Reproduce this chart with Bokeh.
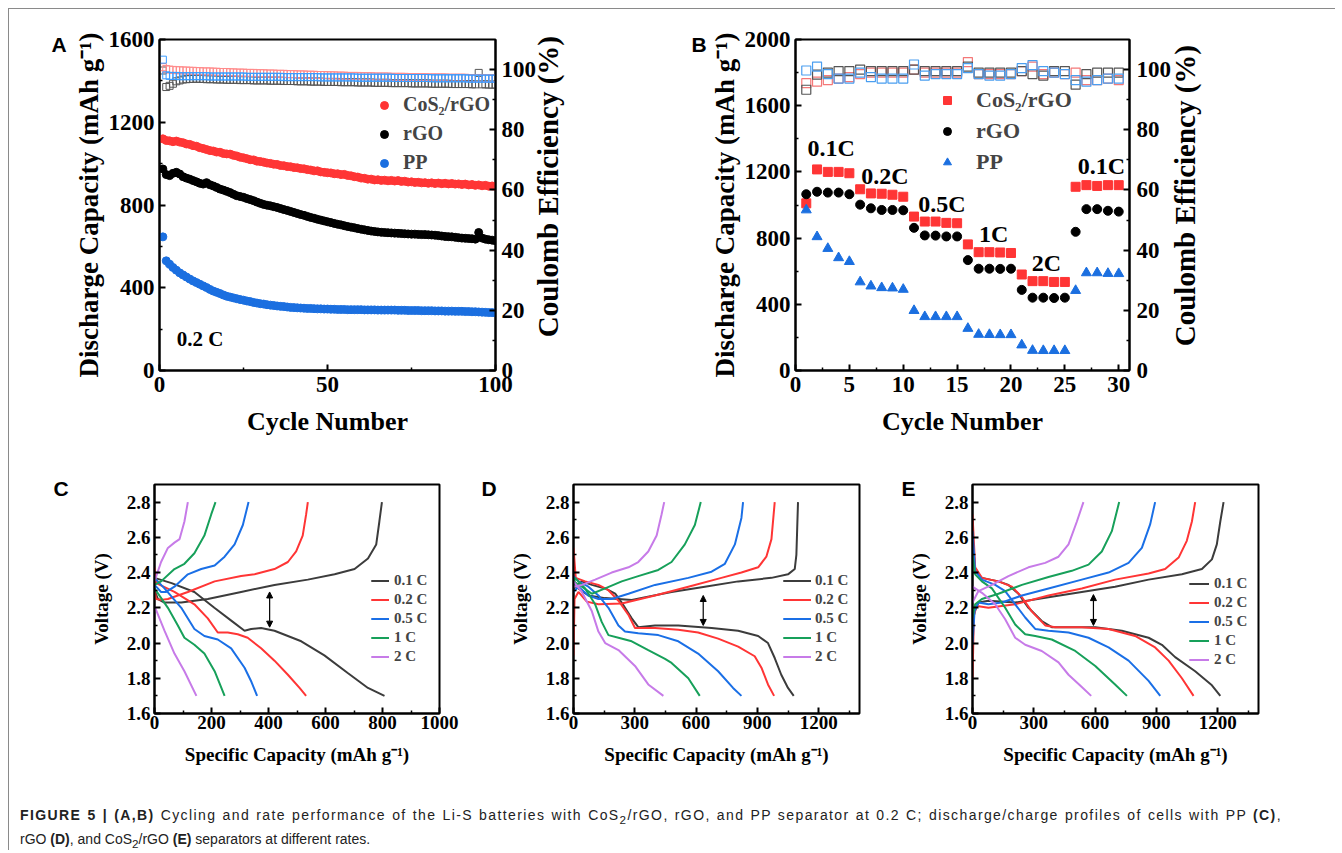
from bokeh.plotting import figure
from bokeh.models import (Range1d, LinearAxis, FixedTicker, Legend, LegendItem, Title,
                          Arrow, NormalHead, Div, PrintfTickFormatter)
from bokeh.layouts import row, column
from bokeh.core.properties import value
from bokeh.embed import file_html
from bokeh.resources import INLINE

SERIF = "Liberation Serif"
SANS = "Liberation Sans"

# ---------------- Panel A data (cycling at 0.2 C) ----------------
cycles_a = list(range(1, 101))
cap_cos2_a = [1120, 1112, 1110, 1106, 1109, 1104, 1101, 1095, 1093, 1087,
              1084, 1077, 1073, 1068, 1063, 1061, 1056, 1055, 1049, 1047,
              1046, 1040, 1037, 1031, 1028, 1024, 1019, 1018, 1012, 1010,
              1007, 1003, 1001, 997, 996, 991, 990, 986, 985, 981,
              980, 976, 975, 971, 969, 965, 965, 960, 958, 956,
              955, 951, 951, 947, 948, 943, 941, 937, 935, 930,
              929, 925, 925, 921, 922, 919, 920, 917, 919, 916,
              918, 914, 915, 911, 912, 909, 910, 907, 908, 905,
              907, 904, 906, 903, 905, 902, 904, 901, 902, 899,
              901, 897, 899, 895, 897, 893, 895, 891, 892, 890]
cap_rgo_a = [974, 947, 942, 953, 958, 950, 937, 930, 925, 918,
             912, 905, 901, 908, 898, 892, 885, 877, 872, 866,
             860, 852, 845, 841, 837, 831, 826, 821, 814, 808,
             803, 799, 796, 792, 788, 783, 778, 774, 769, 764,
             759, 754, 750, 745, 740, 736, 731, 727, 723, 719,
             715, 711, 707, 704, 700, 696, 693, 690, 686, 683,
             680, 677, 674, 672, 670, 668, 667, 666, 665, 664,
             663, 662, 661, 660, 659, 659, 658, 657, 657, 656,
             655, 654, 652, 650, 648, 647, 646, 644, 642, 640,
             639, 638, 637, 635, 667, 640, 635, 632, 630, 627]
cap_pp_a = [646, 530, 514, 498, 485, 472, 462, 452, 442, 433,
            425, 417, 409, 401, 392, 384, 378, 372, 365, 359,
            355, 351, 347, 343, 340, 336, 333, 329, 326, 323,
            321, 318, 316, 314, 312, 310, 309, 307, 305, 304,
            303, 302, 301, 300, 300, 299, 298, 298, 297, 297,
            296, 296, 295, 295, 295, 294, 294, 294, 294, 294,
            293, 293, 293, 293, 292, 292, 292, 292, 292, 292,
            291, 291, 291, 290, 290, 290, 290, 289, 289, 289,
            289, 288, 288, 288, 287, 287, 287, 286, 286, 286,
            285, 285, 284, 284, 283, 282, 281, 280, 280, 279]
ce_cos2_a = [100.8, 100.2, 100.0, 99.9, 99.8, 99.8, 99.7, 99.7, 99.6, 99.6,
             99.5, 99.5, 99.4, 99.4, 99.4, 99.3, 99.3, 99.2, 99.2, 99.2,
             99.1, 99.1, 99.0, 99.0, 99.0, 98.9, 98.9, 98.9, 98.8, 98.8,
             98.8, 98.7, 98.7, 98.7, 98.6, 98.6, 98.6, 98.5, 98.5, 98.5,
             98.4, 98.4, 98.4, 98.3, 98.3, 98.3, 98.2, 98.2, 98.2, 98.1,
             98.1, 98.1, 98.0, 98.0, 98.0, 97.9, 97.9, 97.9, 97.9, 97.8,
             97.8, 97.8, 97.8, 97.7, 97.7, 97.7, 97.7, 97.7, 97.6, 97.6,
             97.6, 97.6, 97.6, 97.5, 97.5, 97.5, 97.5, 97.5, 97.5, 97.4,
             97.4, 97.4, 97.4, 97.4, 97.4, 97.3, 97.3, 97.3, 97.3, 97.3,
             97.3, 97.2, 97.2, 97.2, 97.2, 97.2, 97.1, 97.1, 97.1, 97.1]
ce_rgo_a = [99.7, 94.2, 94.6, 95.3, 96.1, 96.4, 96.7, 96.8, 96.9, 96.9,
            97.0, 96.9, 96.9, 96.8, 96.8, 96.8, 96.7, 96.7, 96.7, 96.6,
            96.6, 96.6, 96.6, 96.5, 96.5, 96.5, 96.5, 96.4, 96.4, 96.4,
            96.4, 96.4, 96.3, 96.3, 96.3, 96.3, 96.2, 96.2, 96.2, 96.2,
            96.1, 96.1, 96.1, 96.1, 96.0, 96.0, 96.0, 96.0, 95.9, 95.9,
            95.9, 95.9, 95.9, 95.8, 95.8, 95.8, 95.8, 95.8, 95.7, 95.7,
            95.7, 95.7, 95.7, 95.6, 95.6, 95.6, 95.6, 95.6, 95.5, 95.5,
            95.5, 95.5, 95.5, 95.5, 95.4, 95.4, 95.4, 95.4, 95.4, 95.4,
            95.3, 95.3, 95.3, 95.3, 95.3, 95.3, 95.2, 95.2, 95.2, 95.2,
            95.2, 95.2, 95.1, 95.1, 98.9, 95.1, 95.1, 95.0, 95.0, 95.0]
ce_pp_a = [103.3, 98.1, 97.9, 97.9, 97.9, 97.8, 97.8, 97.8, 97.8, 97.8,
           97.8, 97.8, 97.8, 97.8, 97.7, 97.7, 97.7, 97.7, 97.7, 97.7,
           97.7, 97.7, 97.7, 97.7, 97.7, 97.6, 97.6, 97.6, 97.6, 97.6,
           97.6, 97.6, 97.6, 97.6, 97.6, 97.6, 97.5, 97.5, 97.5, 97.5,
           97.5, 97.5, 97.5, 97.5, 97.5, 97.5, 97.5, 97.4, 97.4, 97.4,
           97.4, 97.4, 97.4, 97.4, 97.4, 97.4, 97.4, 97.4, 97.3, 97.3,
           97.3, 97.3, 97.3, 97.3, 97.3, 97.3, 97.3, 97.3, 97.3, 97.2,
           97.2, 97.2, 97.2, 97.2, 97.2, 97.2, 97.2, 97.2, 97.2, 97.2,
           97.1, 97.1, 97.1, 97.1, 97.1, 97.1, 97.1, 97.1, 97.1, 97.1,
           97.1, 97.0, 97.0, 97.0, 97.0, 97.0, 97.0, 97.0, 97.0, 97.0]

# ---------------- Panel B data (rate performance) ----------------
cycles_b = list(range(1, 31))
cap_cos2_b = [1010, 1215, 1200, 1200, 1192, 1095, 1070, 1068, 1062, 1050,
              930, 900, 900, 892, 890, 762, 715, 715, 713, 710,
              580, 540, 540, 535, 535, 1110, 1120, 1115, 1120, 1120]
cap_rgo_b = [1065, 1080, 1075, 1075, 1065, 1002, 980, 970, 970, 968,
             862, 816, 815, 810, 810, 667, 615, 615, 614, 615,
             487, 440, 440, 438, 440, 838, 975, 975, 965, 960]
cap_pp_b = [970, 808, 737, 681, 658, 535, 510, 500, 498, 490,
            362, 325, 325, 325, 325, 254, 218, 217, 216, 216,
            154, 121, 120, 120, 120, 483, 590, 590, 586, 585]
ce_cos2_b = [95.5, 96.0, 96.5, 97.0, 97.5, 98.5, 99.0, 99.0, 99.0, 99.0,
             100.0, 99.0, 99.0, 99.0, 99.0, 102.5, 98.5, 98.5, 98.5, 98.5,
             99.5, 101.0, 98.5, 99.0, 98.5, 99.0, 96.5, 96.5, 97.0, 96.5]
ce_rgo_b = [93.3, 98.3, 99.0, 99.5, 99.5, 100.0, 99.5, 99.5, 99.5, 99.5,
            100.0, 99.5, 99.5, 99.5, 99.5, 101.0, 99.0, 99.0, 99.0, 99.0,
            99.5, 98.5, 98.0, 99.5, 99.5, 95.0, 98.5, 99.0, 99.0, 99.0]
ce_pp_b = [99.7, 101.0, 98.5, 97.0, 97.0, 99.0, 97.5, 97.0, 97.0, 97.0,
           101.7, 98.0, 98.5, 98.5, 98.5, 100.5, 98.5, 98.0, 98.0, 98.5,
           100.5, 101.5, 99.5, 99.0, 98.5, 96.5, 96.0, 96.5, 97.0, 97.0]
rate_text_b = ["0.1C", "0.2C", "0.5C", "1C", "2C", "0.1C"]
rate_x_b = [3.3, 8.3, 13.6, 18.4, 23.3, 28.4]
rate_y_b = [1345, 1176, 1006, 824, 648, 1236]

# ---------------- Panel C data (PP separator) ----------------
rates = ["0.1 C", "0.2 C", "0.5 C", "1 C", "2 C"]
pp_dis_cap_01 = [0, 60, 140, 210, 275, 316, 339, 374, 421, 515, 596, 678, 749, 807]
pp_dis_v_01 = [2.37, 2.34, 2.29, 2.20, 2.12, 2.07, 2.08, 2.085, 2.07, 2.01, 1.93, 1.83, 1.745, 1.70]
pp_chg_cap_01 = [0, 12, 35, 94, 187, 304, 421, 538, 632, 702, 749, 778, 789, 798]
pp_chg_v_01 = [2.30, 2.25, 2.23, 2.23, 2.25, 2.29, 2.33, 2.36, 2.39, 2.42, 2.48, 2.56, 2.69, 2.80]
pp_dis_cap_02 = [0, 6, 70, 140, 187, 222, 257, 292, 327, 374, 421, 468, 509, 532]
pp_dis_v_02 = [2.43, 2.34, 2.29, 2.22, 2.14, 2.06, 2.06, 2.05, 2.03, 1.97, 1.90, 1.82, 1.745, 1.70]
pp_chg_cap_02 = [0, 6, 23, 47, 117, 211, 304, 351, 421, 468, 497, 520, 532, 538]
pp_chg_v_02 = [2.30, 2.25, 2.245, 2.25, 2.29, 2.35, 2.38, 2.39, 2.42, 2.46, 2.52, 2.61, 2.73, 2.80]
pp_dis_cap_05 = [0, 35, 94, 140, 175, 222, 269, 316, 340, 360]
pp_dis_v_05 = [2.37, 2.31, 2.20, 2.08, 2.04, 2.02, 1.97, 1.86, 1.78, 1.70]
pp_chg_cap_05 = [0, 6, 23, 41, 70, 117, 164, 211, 246, 281, 310, 330]
pp_chg_v_05 = [2.33, 2.32, 2.29, 2.29, 2.32, 2.39, 2.42, 2.44, 2.49, 2.56, 2.67, 2.80]
pp_dis_cap_1 = [0, 47, 82, 105, 140, 175, 211, 246]
pp_dis_v_1 = [2.31, 2.20, 2.10, 2.03, 1.99, 1.94, 1.84, 1.70]
pp_chg_cap_1 = [0, 23, 70, 105, 140, 175, 199, 214]
pp_chg_v_1 = [2.33, 2.35, 2.42, 2.45, 2.51, 2.61, 2.73, 2.80]
pp_dis_cap_2 = [0, 35, 70, 105, 147]
pp_dis_v_2 = [2.21, 2.07, 1.94, 1.84, 1.70]
pp_chg_cap_2 = [0, 23, 47, 70, 88, 105, 117]
pp_chg_v_2 = [2.35, 2.46, 2.54, 2.57, 2.59, 2.69, 2.80]

# ---------------- Panel D data (rGO separator) ----------------
rgo_dis_cap_01 = [0, 8, 41, 90, 155, 204, 236, 285, 317, 399, 513, 676, 806, 904, 952, 985, 1017, 1050, 1078]
rgo_dis_v_01 = [2.30, 2.32, 2.35, 2.33, 2.31, 2.28, 2.23, 2.14, 2.09, 2.10, 2.10, 2.085, 2.07, 2.04, 2.00, 1.915, 1.82, 1.745, 1.70]
rgo_chg_cap_01 = [0, 24, 73, 155, 285, 480, 643, 806, 969, 1050, 1083, 1091, 1095, 1099]
rgo_chg_v_01 = [2.35, 2.31, 2.27, 2.255, 2.245, 2.29, 2.32, 2.35, 2.37, 2.39, 2.42, 2.50, 2.65, 2.80]
rgo_dis_cap_02 = [0, 11, 57, 122, 171, 220, 269, 301, 399, 513, 610, 708, 806, 887, 920, 952, 982]
rgo_dis_v_02 = [2.54, 2.37, 2.35, 2.33, 2.30, 2.24, 2.16, 2.085, 2.085, 2.075, 2.06, 2.025, 1.98, 1.925, 1.86, 1.765, 1.70]
rgo_chg_cap_02 = [0, 5, 24, 65, 122, 236, 399, 562, 724, 822, 904, 944, 969, 985]
rgo_chg_v_02 = [1.93, 2.25, 2.29, 2.235, 2.22, 2.225, 2.27, 2.32, 2.37, 2.40, 2.43, 2.49, 2.59, 2.80]
rgo_dis_cap_05 = [0, 24, 73, 122, 171, 220, 252, 317, 415, 513, 610, 708, 781, 822]
rgo_dis_v_05 = [2.38, 2.35, 2.32, 2.27, 2.20, 2.10, 2.065, 2.055, 2.045, 2.01, 1.94, 1.84, 1.745, 1.70]
rgo_chg_cap_05 = [0, 24, 73, 122, 187, 269, 399, 562, 676, 741, 790, 822, 830]
rgo_chg_v_05 = [2.29, 2.32, 2.27, 2.25, 2.25, 2.28, 2.33, 2.37, 2.405, 2.45, 2.56, 2.71, 2.80]
rgo_dis_cap_1 = [0, 8, 57, 106, 138, 171, 220, 285, 366, 448, 480, 562, 618]
rgo_dis_v_1 = [2.32, 2.37, 2.31, 2.22, 2.12, 2.045, 2.03, 2.01, 1.96, 1.91, 1.887, 1.80, 1.70]
rgo_chg_cap_1 = [0, 41, 90, 155, 236, 317, 415, 480, 545, 594, 623]
rgo_chg_v_1 = [2.35, 2.32, 2.28, 2.31, 2.35, 2.38, 2.415, 2.46, 2.56, 2.67, 2.80]
rgo_dis_cap_2 = [0, 41, 90, 122, 155, 220, 301, 366, 440]
rgo_dis_v_2 = [2.35, 2.29, 2.18, 2.065, 2.00, 1.96, 1.87, 1.765, 1.70]
rgo_chg_cap_2 = [0, 41, 106, 187, 269, 317, 366, 407, 431, 444]
rgo_chg_v_2 = [2.32, 2.33, 2.36, 2.40, 2.43, 2.46, 2.52, 2.61, 2.73, 2.80]

# ---------------- Panel E data (CoS2/rGO separator) ----------------
cos_dis_cap_01 = [0, 13, 46, 127, 176, 225, 274, 339, 388, 470, 601, 731, 862, 927, 992, 1090, 1172, 1213]
cos_dis_v_01 = [2.60, 2.41, 2.37, 2.35, 2.33, 2.28, 2.20, 2.125, 2.09, 2.09, 2.09, 2.07, 2.03, 1.99, 1.92, 1.84, 1.76, 1.70]
cos_chg_cap_01 = [0, 10, 29, 78, 209, 372, 535, 698, 862, 1025, 1123, 1172, 1196, 1213, 1229]
cos_chg_v_01 = [2.09, 2.18, 2.23, 2.24, 2.23, 2.26, 2.29, 2.32, 2.36, 2.39, 2.42, 2.475, 2.56, 2.69, 2.80]
cos_dis_cap_02 = [0, 13, 46, 127, 193, 242, 290, 356, 405, 535, 666, 796, 894, 960, 1025, 1082]
cos_dis_v_02 = [2.73, 2.43, 2.37, 2.35, 2.32, 2.26, 2.18, 2.10, 2.09, 2.09, 2.08, 2.04, 1.975, 1.90, 1.80, 1.70]
cos_chg_cap_02 = [0, 7, 21, 78, 209, 372, 535, 698, 862, 943, 1009, 1049, 1074, 1090]
cos_chg_v_02 = [1.80, 2.16, 2.21, 2.20, 2.22, 2.27, 2.31, 2.36, 2.395, 2.42, 2.485, 2.58, 2.69, 2.80]
cos_dis_cap_05 = [0, 13, 46, 111, 160, 209, 258, 307, 372, 470, 568, 666, 764, 862, 919]
cos_dis_v_05 = [2.635, 2.41, 2.36, 2.33, 2.295, 2.22, 2.145, 2.08, 2.07, 2.06, 2.03, 1.975, 1.90, 1.785, 1.70]
cos_chg_cap_05 = [0, 10, 29, 78, 144, 242, 372, 535, 666, 764, 829, 870, 894]
cos_chg_v_05 = [1.99, 2.18, 2.23, 2.22, 2.23, 2.27, 2.31, 2.36, 2.40, 2.455, 2.54, 2.675, 2.80]
cos_dis_cap_1 = [0, 13, 46, 95, 160, 209, 258, 307, 388, 503, 601, 698, 756]
cos_dis_v_1 = [2.50, 2.39, 2.35, 2.31, 2.20, 2.105, 2.05, 2.04, 2.02, 1.955, 1.87, 1.765, 1.70]
cos_chg_cap_1 = [0, 13, 46, 127, 242, 372, 486, 568, 633, 682, 718]
cos_chg_v_1 = [2.145, 2.22, 2.25, 2.28, 2.33, 2.375, 2.41, 2.445, 2.52, 2.635, 2.80]
cos_dis_cap_2 = [0, 46, 111, 160, 209, 258, 339, 421, 470, 535, 581]
cos_dis_v_2 = [2.32, 2.285, 2.22, 2.135, 2.03, 1.99, 1.955, 1.89, 1.82, 1.75, 1.70]
cos_chg_cap_2 = [0, 29, 95, 176, 274, 356, 421, 470, 511, 543]
cos_chg_v_2 = [2.23, 2.295, 2.33, 2.38, 2.43, 2.455, 2.49, 2.56, 2.69, 2.80]

# polarization arrows (capacity, V top, V bottom)
arrow_c = (404, 2.29, 2.09)
arrow_d = (635, 2.27, 2.10)
arrow_e = (592, 2.275, 2.10)

RATE_COLORS = ["#3c3c3c", "#ff3535", "#1a6fe6", "#17a05a", "#c77be8"]
RED, BLACK, BLUE = "#ff3535", "#000000", "#1b6fe0"


def style(p, tick_px, label_px):
    p.outline_line_color = "black"
    p.outline_line_width = 2
    p.outline_line_alpha = 1
    p.xgrid.visible = False
    p.ygrid.visible = False
    p.background_fill_color = "white"
    p.border_fill_color = "white"
    for ax in p.axis:
        ax.axis_line_width = 2
        ax.axis_line_color = "black"
        ax.major_tick_line_width = 2
        ax.minor_tick_line_width = 1.5
        ax.major_tick_in = 6
        ax.major_tick_out = 0
        ax.minor_tick_in = 3
        ax.minor_tick_out = 0
        ax.major_label_text_font = SERIF
        ax.major_label_text_font_style = "bold"
        ax.major_label_text_font_size = tick_px
        ax.major_label_text_color = "black"
        ax.axis_label_text_font = SERIF
        ax.axis_label_text_font_style = "bold"
        ax.axis_label_text_font_size = label_px
        ax.axis_label_text_color = "black"


def letter(p, t, offset, drop):
    # panel letter, drawn as a left-aligned title hanging slightly below the frame top
    p.add_layout(Title(text=t, align="left", offset=offset, standoff=-2 * drop,
                       vertical_align="bottom", text_font=SANS, text_font_style="bold",
                       text_font_size="21px", text_color="black"), "above")


def right_title_div(text, width, top, shift):
    # secondary-axis title reading bottom-to-top, as in the reference
    html = ('<div style="height:457px">'
            '<div style="display:inline-block;writing-mode:vertical-rl;'
            'transform:translateX(%dpx) rotate(180deg);font-family:\'Liberation Serif\',serif;'
            'font-weight:bold;font-size:29px;line-height:30px;margin-top:%dpx;'
            'white-space:nowrap;color:black">%s</div></div>') % (shift, top, text)
    return Div(text=html, width=width, height=457, margin=0)


# ================= Panel A =================
pA = figure(width=530, height=457, x_range=Range1d(0, 100), y_range=Range1d(0, 1600),
            output_backend="svg", toolbar_location=None,
            min_border_left=150, min_border_right=44, min_border_top=30, min_border_bottom=96)
pA.extra_y_ranges = {"ce": Range1d(0, 110)}
axA = LinearAxis(y_range_name="ce", ticker=FixedTicker(ticks=[0, 20, 40, 60, 80, 100],
                                                        minor_ticks=[10, 30, 50, 70, 90]))
pA.add_layout(axA, "right")
pA.xaxis.ticker = FixedTicker(ticks=[0, 50, 100], minor_ticks=[25, 75])
pA.yaxis[0].ticker = FixedTicker(ticks=[0, 400, 800, 1200, 1600], minor_ticks=[200, 600, 1000, 1400])
pA.xaxis.axis_label = "Cycle Number"
pA.yaxis[0].axis_label = "Discharge Capacity (mAh g⁻¹)"
style(pA, "23px", "26px")
pA.yaxis[0].axis_label_text_font_size = "27px"
pA.xaxis.major_label_standoff = 6
pA.xaxis.axis_label_standoff = 12
pA.yaxis[0].major_label_standoff = 5
pA.yaxis[0].axis_label_standoff = 2
axA.major_label_standoff = 6

pA.scatter(cycles_a, ce_rgo_a, y_range_name="ce", marker="square", size=7,
           fill_color=None, line_color="#555555", line_width=1)
pA.scatter(cycles_a, ce_cos2_a, y_range_name="ce", marker="square", size=7,
           fill_color=None, line_color="#ff8c8c", line_width=1)
pA.scatter(cycles_a, ce_pp_a, y_range_name="ce", marker="square", size=7,
           fill_color=None, line_color="#3b9cff", line_width=1)
rA1 = pA.scatter(cycles_a, cap_cos2_a, size=8, color=RED)
rA2 = pA.scatter(cycles_a, cap_rgo_a, size=8, color=BLACK)
rA3 = pA.scatter(cycles_a, cap_pp_a, size=8, color=BLUE)
legA = Legend(items=[LegendItem(label="CoS₂/rGO", renderers=[rA1]),
                     LegendItem(label="rGO", renderers=[rA2]),
                     LegendItem(label="PP", renderers=[rA3])],
              location=(215, 196), glyph_width=20, glyph_height=20, label_height=20,
              spacing=6, label_standoff=9, padding=0, margin=0,
              border_line_alpha=0, background_fill_alpha=0,
              label_text_font=SERIF, label_text_font_style="bold", label_text_font_size="20px")
pA.add_layout(legA)
pA.text(x=[5.1], y=[150], text=["0.2 C"], text_font=value(SERIF), text_font_style="bold",
        text_font_size="21px", text_baseline="middle", text_align="left", text_color="black")
letter(pA, "A", -108, 16)
divA = right_title_div("Coulomb Efficiency (%)", 142, 27, -6)

# ================= Panel B =================
pB = figure(width=493, height=457, x_range=Range1d(0, 31), y_range=Range1d(0, 2000),
            output_backend="svg", toolbar_location=None,
            min_border_left=114, min_border_right=44, min_border_top=30, min_border_bottom=96)
pB.extra_y_ranges = {"ce": Range1d(0, 110)}
axB = LinearAxis(y_range_name="ce", ticker=FixedTicker(ticks=[0, 20, 40, 60, 80, 100],
                                                        minor_ticks=[10, 30, 50, 70, 90]))
pB.add_layout(axB, "right")
pB.xaxis.ticker = FixedTicker(ticks=[0, 5, 10, 15, 20, 25, 30],
                              minor_ticks=[2.5, 7.5, 12.5, 17.5, 22.5, 27.5])
pB.yaxis[0].ticker = FixedTicker(ticks=[0, 400, 800, 1200, 1600, 2000],
                                 minor_ticks=[200, 600, 1000, 1400, 1800])
pB.xaxis.axis_label = "Cycle Number"
pB.yaxis[0].axis_label = "Discharge Capacity (mAh g⁻¹)"
style(pB, "23px", "26px")
pB.yaxis[0].axis_label_text_font_size = "27px"
pB.xaxis.major_label_standoff = 6
pB.xaxis.axis_label_standoff = 12
pB.yaxis[0].major_label_standoff = 5
pB.yaxis[0].axis_label_standoff = 2
axB.major_label_standoff = 7

pB.scatter(cycles_b, ce_cos2_b, y_range_name="ce", marker="square", size=9,
           fill_color=None, line_color="#f47878", line_width=1.2)
pB.scatter(cycles_b, ce_rgo_b, y_range_name="ce", marker="square", size=9,
           fill_color=None, line_color="#555555", line_width=1.2)
pB.scatter(cycles_b, ce_pp_b, y_range_name="ce", marker="square", size=9,
           fill_color=None, line_color="#4a9ef0", line_width=1.2)
rB1 = pB.scatter(cycles_b, cap_cos2_b, marker="square", size=9, color=RED)
rB2 = pB.scatter(cycles_b, cap_rgo_b, marker="circle", size=9, color=BLACK)
rB3 = pB.scatter(cycles_b, cap_pp_b, marker="triangle", size=10, color=BLUE)
legB = Legend(items=[LegendItem(label="CoS₂/rGO", renderers=[rB1]),
                     LegendItem(label="rGO", renderers=[rB2]),
                     LegendItem(label="PP", renderers=[rB3])],
              location=(142, 195), glyph_width=20, glyph_height=20, label_height=20,
              spacing=5, label_standoff=19, padding=0, margin=0,
              border_line_alpha=0, background_fill_alpha=0,
              label_text_font=SERIF, label_text_font_style="bold", label_text_font_size="22px")
pB.add_layout(legB)
pB.text(x=rate_x_b, y=rate_y_b, text=rate_text_b, text_font=value(SERIF), text_font_style="bold",
        text_font_size="24px", text_baseline="middle", text_align="center", text_color="black")
letter(pB, "B", -104, 16)
divB = right_title_div("Coulomb Efficiency (%)", 161, 36, -4)


# ================= Panels C, D, E =================
def profile_panel(width, bl, br, xmax, xticks, xminor, curves, arrow, leg_loc, glyph_w, leg_standoff,
                  let, let_x):
    p = figure(width=width, height=310, x_range=Range1d(0, xmax), y_range=Range1d(1.6, 2.9),
               output_backend="svg", toolbar_location=None,
               min_border_left=bl, min_border_right=br, min_border_top=18, min_border_bottom=63)
    p.xaxis.ticker = FixedTicker(ticks=xticks, minor_ticks=xminor)
    p.yaxis.ticker = FixedTicker(ticks=[1.6, 1.8, 2.0, 2.2, 2.4, 2.6, 2.8],
                                 minor_ticks=[1.7, 1.9, 2.1, 2.3, 2.5, 2.7])
    p.yaxis.formatter = PrintfTickFormatter(format="%.1f")
    p.xaxis.axis_label = "Specific Capacity (mAh g⁻¹)"
    p.yaxis.axis_label = "Voltage (V)"
    style(p, "19px", "19px")
    p.xaxis.major_label_standoff = 2
    p.xaxis.axis_label_standoff = 12
    p.yaxis.major_label_standoff = 4
    p.yaxis.axis_label_standoff = 12
    items = []
    for i, (dc, dv, cc, cv) in enumerate(curves):
        r1 = p.line(dc, dv, line_color=RATE_COLORS[i], line_width=2)
        r2 = p.line(cc, cv, line_color=RATE_COLORS[i], line_width=2)
        items.append(LegendItem(label=rates[i], renderers=[r1, r2]))
    leg = Legend(items=items, location=leg_loc, glyph_width=glyph_w, glyph_height=19,
                 label_height=19, spacing=0, label_standoff=leg_standoff, padding=0, margin=0,
                 border_line_alpha=0, background_fill_alpha=0,
                 label_text_font=SERIF, label_text_font_style="bold", label_text_font_size="15px")
    p.add_layout(leg)
    ax_x, ax_top, ax_bot = arrow
    p.add_layout(Arrow(start=NormalHead(size=6, fill_color="black", line_color="black"),
                       end=NormalHead(size=6, fill_color="black", line_color="black"),
                       x_start=ax_x, y_start=ax_top, x_end=ax_x, y_end=ax_bot,
                       line_width=1.2, line_color="black"))
    letter(p, let, let_x, 15)
    return p


curves_c = [(pp_dis_cap_01, pp_dis_v_01, pp_chg_cap_01, pp_chg_v_01),
            (pp_dis_cap_02, pp_dis_v_02, pp_chg_cap_02, pp_chg_v_02),
            (pp_dis_cap_05, pp_dis_v_05, pp_chg_cap_05, pp_chg_v_05),
            (pp_dis_cap_1, pp_dis_v_1, pp_chg_cap_1, pp_chg_v_1),
            (pp_dis_cap_2, pp_dis_v_2, pp_chg_cap_2, pp_chg_v_2)]
curves_d = [(rgo_dis_cap_01, rgo_dis_v_01, rgo_chg_cap_01, rgo_chg_v_01),
            (rgo_dis_cap_02, rgo_dis_v_02, rgo_chg_cap_02, rgo_chg_v_02),
            (rgo_dis_cap_05, rgo_dis_v_05, rgo_chg_cap_05, rgo_chg_v_05),
            (rgo_dis_cap_1, rgo_dis_v_1, rgo_chg_cap_1, rgo_chg_v_1),
            (rgo_dis_cap_2, rgo_dis_v_2, rgo_chg_cap_2, rgo_chg_v_2)]
curves_e = [(cos_dis_cap_01, cos_dis_v_01, cos_chg_cap_01, cos_chg_v_01),
            (cos_dis_cap_02, cos_dis_v_02, cos_chg_cap_02, cos_chg_v_02),
            (cos_dis_cap_05, cos_dis_v_05, cos_chg_cap_05, cos_chg_v_05),
            (cos_dis_cap_1, cos_dis_v_1, cos_chg_cap_1, cos_chg_v_1),
            (cos_dis_cap_2, cos_dis_v_2, cos_chg_cap_2, cos_chg_v_2)]

pC = profile_panel(462, 145, 32, 1000, [0, 200, 400, 600, 800, 1000], [100, 300, 500, 700, 900],
                   curves_c, arrow_c, (217, 47), 18, 5, "C", -101)
pD = profile_panel(410, 102, 22, 1400, [0, 300, 600, 900, 1200], [150, 450, 750, 1050, 1350],
                   curves_d, arrow_d, (210, 47), 28, 4, "D", -92)
pE = profile_panel(454, 91, 77, 1400, [0, 300, 600, 900, 1200], [150, 450, 750, 1050, 1350],
                   curves_e, arrow_e, (217, 44), 20, 5, "E", -71)

caption = Div(
    text=('<div style="padding:27px 0 0 11px;font-family:\'Liberation Sans\',Arial,sans-serif;'
          'font-size:14px;line-height:24px;color:#222">'
          '<div style="width:1262px;text-align:justify;text-align-last:justify;'
          'letter-spacing:1.4px;white-space:nowrap">'
          '<b>FIGURE 5 | (A,B)</b> Cycling and rate performance of the Li-S batteries with '
          'CoS<sub style="line-height:0">2</sub>/rGO, rGO, and PP separator at 0.2 C; '
          'discharge/charge profiles of cells with PP <b>(C)</b>,</div>'
          '<div style="white-space:nowrap">rGO <b>(D)</b>, and CoS<sub style="line-height:0">2</sub>'
          '/rGO <b>(E)</b> separators at different rates.</div></div>'),
    width=1326, height=74, margin=0)

layout = column(row(pA, divA, pB, divB), row(pC, pD, pE), caption,
                styles={"margin-left": "8px", "margin-top": "8px",
                        "border-top": "1px solid #8a8a8a", "border-left": "1px solid #8a8a8a"})

open("out.html", "w").write(file_html(layout, INLINE))
